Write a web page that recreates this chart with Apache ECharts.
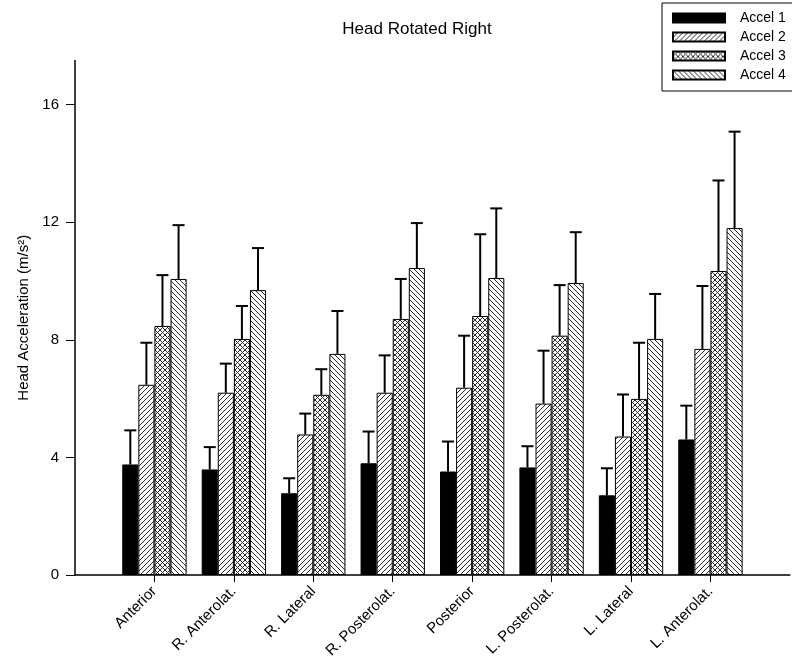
<!DOCTYPE html>
<html>
<head>
<meta charset="utf-8">
<script src="https://cdn.jsdelivr.net/npm/echarts@6/dist/echarts.min.js"></script>
<style>
html,body{margin:0;padding:0;background:#fff;}
#chart{width:792px;height:672px;}
</style>
</head>
<body>
<div id="chart"></div>
<script>
// ---- data ----
const categories = ['Anterior', 'R. Anterolat.', 'R. Lateral', 'R. Posterolat.', 'Posterior', 'L. Posterolat.', 'L. Lateral', 'L. Anterolat.'];
const seriesNames = ['Accel 1', 'Accel 2', 'Accel 3', 'Accel 4'];
const accel1 = [3.76, 3.59, 2.78, 3.80, 3.52, 3.66, 2.71, 4.61];
const accel2 = [6.47, 6.20, 4.78, 6.20, 6.37, 5.83, 4.71, 7.69];
const accel3 = [8.47, 8.03, 6.13, 8.71, 8.81, 8.14, 5.99, 10.34];
const accel4 = [10.07, 9.69, 7.52, 10.44, 10.10, 9.93, 8.03, 11.80];
const accel1Err = [1.16, 0.76, 0.51, 1.08, 1.02, 0.72, 0.92, 1.15];
const accel2Err = [1.43, 0.99, 0.71, 1.27, 1.77, 1.80, 1.43, 2.14];
const accel3Err = [1.73, 1.12, 0.87, 1.36, 2.78, 1.72, 1.91, 3.08];
const accel4Err = [1.83, 1.43, 1.46, 1.53, 2.37, 1.73, 1.53, 3.28];
const yTicks = [0, 4, 8, 12, 16];

const FONT = '"Liberation Sans", Arial, sans-serif';

function makePattern(kind) {
  const s = 5;
  const c = document.createElement('canvas');
  c.width = s; c.height = s;
  const g = c.getContext('2d');
  g.fillStyle = '#fff';
  g.fillRect(0, 0, s, s);
  g.strokeStyle = '#2a2a2a';
  g.lineWidth = 1;
  function fwd() { // "/"
    g.beginPath();
    g.moveTo(-1, s + 1); g.lineTo(s + 1, -1);
    g.moveTo(-1, 1); g.lineTo(1, -1);
    g.moveTo(s - 1, s + 1); g.lineTo(s + 1, s - 1);
    g.stroke();
  }
  function back() { // "\"
    g.beginPath();
    g.moveTo(-1, -1); g.lineTo(s + 1, s + 1);
    g.moveTo(s - 1, -1); g.lineTo(s + 1, 1);
    g.moveTo(-1, s - 1); g.lineTo(1, s + 1);
    g.stroke();
  }
  if (kind === 'fwd') fwd();
  if (kind === 'back') back();
  if (kind === 'cross') { fwd(); back(); }
  return { image: c, repeat: 'repeat' };
}

const means = [accel1, accel2, accel3, accel4];
const errs = [accel1Err, accel2Err, accel3Err, accel4Err];
const fills = ['#000', makePattern('fwd'), makePattern('cross'), makePattern('back')];
const GAP = 0.19;

function pad(arr) { return [null].concat(arr, [null]); }

const series = [];
seriesNames.forEach((name, si) => {
  series.push({
    name: name,
    type: 'bar',
    data: pad(means[si]),
    barGap: '0%',
    barCategoryGap: (GAP * 100) + '%',
    itemStyle: { color: fills[si], borderColor: '#000', borderWidth: 1 },
    z: 2
  });
});
seriesNames.forEach((name, si) => {
  series.push({
    type: 'custom',
    silent: true,
    z: 3,
    data: means[si].map((m, i) => [i + 1, m, errs[si][i]]),
    encode: { x: 0, y: 1 },
    renderItem: function (params, api) {
      const ci = api.value(0), v = api.value(1), e = api.value(2);
      const band = api.size([1, 0])[0];
      const bw = band * (1 - GAP) / 4;
      const base = api.coord([ci, v]);
      const top = api.coord([ci, v + e]);
      const x = base[0] + (si - 1.5) * bw;
      const cap = 6;
      const st = { stroke: '#000', lineWidth: 2 };
      return {
        type: 'group',
        children: [
          { type: 'line', shape: { x1: x, y1: base[1], x2: x, y2: top[1] }, style: st },
          { type: 'line', shape: { x1: x - cap, y1: top[1], x2: x + cap, y2: top[1] }, style: st }
        ]
      };
    }
  });
});

const chart = echarts.init(document.getElementById('chart'), null, { renderer: 'canvas' });
chart.setOption({
  backgroundColor: '#fff',
  animation: false,
  textStyle: { fontFamily: FONT, color: '#000' },
  title: {
    text: 'Head Rotated Right',
    left: 412, top: 16, textAlign: 'center',
    textStyle: { fontFamily: FONT, fontSize: 17, fontWeight: 'normal', color: '#000' }
  },
  legend: {
    data: seriesNames,
    orient: 'vertical',
    left: 662, top: 3,
    padding: [8, 14, 9, 10],
    itemWidth: 52, itemHeight: 9, itemGap: 5,
    icon: 'rect',
    borderColor: '#000', borderWidth: 1,
    textStyle: { fontFamily: FONT, fontSize: 14, color: '#000', padding: [0, 0, 0, 10] }
  },
  grid: { left: 75, right: -8, top: 60.5, bottom: 97, containLabel: false },
  xAxis: {
    type: 'category',
    data: [''].concat(categories, ['']),
    boundaryGap: false,
    axisLine: { lineStyle: { color: '#000', width: 1.5 } },
    axisTick: {
      length: 7,
      interval: function (i) { return i > 0 && i <= categories.length; },
      lineStyle: { color: '#000', width: 1 }
    },
    axisLabel: { interval: 0, rotate: 45, margin: 14, fontFamily: FONT, fontSize: 15, color: '#000' },
    splitLine: { show: false }
  },
  yAxis: {
    type: 'value',
    min: 0, max: 17.5, interval: 4,
    name: 'Head Acceleration (m/s²)',
    nameLocation: 'middle',
    nameGap: 38,
    nameTextStyle: { fontFamily: FONT, fontSize: 15, color: '#000' },
    axisLine: { show: true, lineStyle: { color: '#000', width: 1.5 } },
    axisTick: { show: true, length: 9, customValues: yTicks, lineStyle: { color: '#000', width: 1 } },
    axisLabel: { customValues: yTicks, margin: 16, fontFamily: FONT, fontSize: 15, color: '#000' },
    splitLine: { show: false }
  },
  series: series
});
</script>
</body>
</html>
